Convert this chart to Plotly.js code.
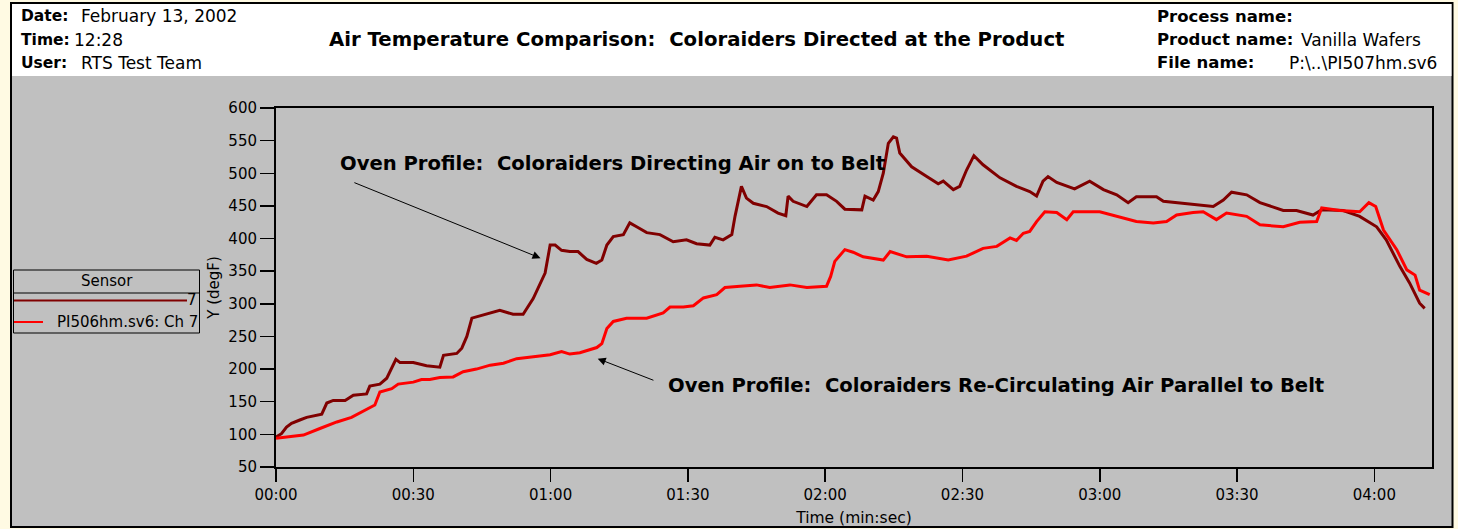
<!DOCTYPE html>
<html>
<head>
<meta charset="utf-8">
<script src="https://cdn.plot.ly/plotly-3.0.1.min.js"></script>
<style>
  html, body { margin: 0; padding: 0; background: #FFFAE3; }
  #chart { width: 1458px; height: 529px; }
</style>
</head>
<body>
<div id="chart"></div>
<script>
// ---------------- DATA ----------------
// Series "7" (PI507hm.sv6) : Coloraiders directing air on to belt
const timeDirected = [0, 1.2, 2.3, 3.4, 5.2, 6.7, 10, 11.1, 12.5, 15.1, 16.9, 19.8, 20.5, 22.7, 24.2, 25.3, 26.2, 27.1, 30, 32.9, 35.8, 36.6, 39.5, 40.6, 41.7, 42.8, 44.2, 46.8, 48.9, 51.8, 54, 56.2, 57.7, 58.8, 59.9, 61, 62.4, 64.2, 66, 67.9, 70, 71.2, 72.3, 73.7, 75.9, 77.3, 78.8, 81, 83.9, 86.8, 89.7, 91.9, 94.8, 95.9, 97.7, 99.6, 100.3, 101.7, 102.8, 104.3, 107.2, 109.7, 111.4, 111.9, 113, 116, 118.1, 120.3, 122.5, 124.3, 128, 128.7, 130.5, 131.6, 132.7, 133.8, 134.9, 135.6, 136.3, 138.9, 142.2, 144.7, 145.8, 148, 149.4, 150.9, 152.5, 154.5, 158.2, 161.8, 164.7, 166.2, 167.6, 168.7, 170.6, 174.5, 177.8, 180.8, 183.7, 186.2, 188, 192.4, 193.9, 199.7, 204.8, 207, 208.8, 212.1, 215, 220.1, 223, 226.6, 228.5, 233.2, 236.8, 240.5, 242.6, 245.6, 247.7, 249.9, 251];
const tempDirected = [96, 101, 111, 117, 122, 126, 131, 148, 152, 152, 160, 162, 174, 177, 186, 201, 215, 210, 210, 205, 203, 221, 224, 232, 250, 278, 281, 286, 290, 284, 284, 308, 332, 347, 390, 390, 382, 380, 380, 368, 362, 367, 390, 403, 406, 424, 418, 409, 406, 395, 398, 392, 390, 402, 398, 406, 434, 480, 462, 454, 449, 439, 435, 465, 457, 449, 467, 467, 457, 445, 444, 465, 459, 472, 500, 546, 556, 554, 531, 510, 495, 484, 488, 475, 480, 505, 527, 513, 493, 480, 472, 465, 488, 495, 486, 476, 488, 475, 467, 455, 464, 464, 457, 453, 449, 459, 471, 467, 455, 443, 443, 436, 444, 443, 434, 418, 398, 357, 332, 301, 293];

// Series "PI506hm.sv6: Ch 7" : Coloraiders re-circulating air parallel to belt
const timeRecirc = [0, 3.1, 6, 9.6, 13.3, 16.5, 19.1, 21.6, 22.7, 25.3, 26.7, 30, 31.8, 33.6, 35.8, 38.7, 40.9, 43.8, 46.8, 49.7, 52.6, 57, 59.9, 62.4, 64.2, 66.4, 70.1, 71.2, 72.3, 73.7, 76.6, 81, 84.6, 86.1, 89, 91.2, 93.4, 96.3, 98.1, 101.4, 105, 107.9, 112.3, 116, 120.3, 121.2, 122.1, 124.3, 126.1, 128.3, 132.7, 134.2, 137.8, 142.2, 146.9, 150.9, 154.5, 157.5, 160.4, 161.8, 163.3, 164.7, 166.2, 168, 170.6, 172.8, 174.2, 180, 183.7, 188, 191.7, 194.6, 196.8, 200.4, 202.6, 205.5, 207.7, 212.1, 215, 220.1, 223.7, 227.4, 228.5, 232.5, 236.8, 238.8, 240.3, 242, 244.9, 247.1, 248.9, 249.9, 252.1];
const tempRecirc = [94, 96, 99, 109, 119, 126, 136, 145, 165, 170, 177, 180, 184, 184, 187, 188, 196, 200, 206, 209, 216, 219, 222, 227, 223, 225, 233, 239, 262, 273, 278, 278, 286, 295, 295, 297, 309, 314, 325, 327, 329, 325, 329, 325, 327, 342, 365, 383, 379, 372, 367, 380, 372, 373, 367, 373, 385, 388, 401, 397, 408, 411, 426, 441, 440, 429, 441, 441, 434, 426, 424, 426, 436, 440, 441, 429, 439, 434, 421, 418, 425, 426, 447, 443, 441, 455, 449, 413, 383, 352, 344, 321, 314];

const xTickVals = [0, 30, 60, 90, 120, 150, 180, 210, 240];
const xTickText = ['00:00', '00:30', '01:00', '01:30', '02:00', '02:30', '03:00', '03:30', '04:00'];

const seriesNames = ['7', 'PI506hm.sv6: Ch 7'];
const seriesColors = ['#800000', '#FF0000'];

const headerLeft = [['Date:', 'February 13, 2002'], ['Time:', '12:28'], ['User:', 'RTS Test Team']];
const headerRight = [['Process name:', ''], ['Product name:', 'Vanilla Wafers'], ['File name:', 'P:\\..\\PI507hm.sv6']];
const chartTitle = 'Air Temperature Comparison:\u00a0 Coloraiders Directed at the Product';
const note1 = 'Oven Profile:\u00a0 Coloraiders Directing Air on to Belt';
const note2 = 'Oven Profile:\u00a0 Coloraiders Re-Circulating Air Parallel to Belt';

// ---------------- LAYOUT ----------------
const W = 1458, H = 529;
const L = 276, R = 1432, T = 108, B = 467;
const px = x => (x - L) / (R - L);
const py = y => (B - y) / (B - T);
const FONT = 'DejaVu Sans, Verdana, sans-serif';

const traces = [
  { x: timeDirected, y: tempDirected, name: seriesNames[0], mode: 'lines', type: 'scatter',
    line: { color: seriesColors[0], width: 3 }, hoverinfo: 'skip' },
  { x: timeRecirc, y: tempRecirc, name: seriesNames[1], mode: 'lines', type: 'scatter',
    line: { color: seriesColors[1], width: 3 }, hoverinfo: 'skip' }
];

const shapes = [
  { type: 'rect', xref: 'paper', yref: 'paper', x0: px(11), x1: px(1452.5), y0: py(3), y1: py(527),
    fillcolor: '#C0C0C0', line: { color: '#000', width: 2 }, layer: 'below' },
  { type: 'rect', xref: 'paper', yref: 'paper', x0: px(12), x1: px(1451.5), y0: py(4), y1: py(76),
    fillcolor: '#FFFFFF', line: { width: 0 }, layer: 'below' },
  // legend box
  { type: 'rect', xref: 'paper', yref: 'paper', x0: px(13.5), x1: px(199.5), y0: py(270), y1: py(333),
    line: { color: '#000', width: 1 } },
  { type: 'line', xref: 'paper', yref: 'paper', x0: px(13.5), x1: px(199.5), y0: py(293), y1: py(293),
    line: { color: '#000', width: 1 } },
  { type: 'line', xref: 'paper', yref: 'paper', x0: px(14), x1: px(187), y0: py(300.5), y1: py(300.5),
    line: { color: seriesColors[0], width: 2 } },
  { type: 'line', xref: 'paper', yref: 'paper', x0: px(14), x1: px(43), y0: py(322), y1: py(322),
    line: { color: seriesColors[1], width: 2 } }
];

const annotations = [];
const PAD = 3; // annotation inner padding, so left edges line up with the reference
const hdr = (text, x, y, bold, size) => annotations.push({
  xref: 'paper', yref: 'paper', x: px(x - PAD), y: py(y), xanchor: 'left', yanchor: 'middle',
  text: bold ? '<b>' + text + '</b>' : text, showarrow: false,
  font: { family: FONT, size: size, color: '#000' }
});
const rowY = [16, 40, 63];
const leftValX = [82, 75, 82];
headerLeft.forEach((r, i) => { hdr(r[0], 22, rowY[i], true, 15.5); hdr(r[1], leftValX[i], rowY[i], false, 17); });
const rightValX = [1302, 1302, 1290];
headerRight.forEach((r, i) => { hdr(r[0], 1158, rowY[i], true, 16.5); if (r[1]) hdr(r[1], rightValX[i], rowY[i], false, 17); });

annotations.push({ xref: 'paper', yref: 'paper', x: px(696), y: py(40), xanchor: 'center', yanchor: 'middle',
  text: '<b>' + chartTitle + '</b>', showarrow: false, font: { family: FONT, size: 19.7, color: '#000' } });

// legend texts
annotations.push({ xref: 'paper', yref: 'paper', x: px(106.5), y: py(281), xanchor: 'center', yanchor: 'middle',
  text: 'Sensor', showarrow: false, font: { family: FONT, size: 15, color: '#000' } });
annotations.push({ xref: 'paper', yref: 'paper', x: px(199), y: py(300), xanchor: 'right', yanchor: 'middle',
  text: seriesNames[0], showarrow: false, font: { family: FONT, size: 15, color: '#000' } });
annotations.push({ xref: 'paper', yref: 'paper', x: px(200), y: py(322), xanchor: 'right', yanchor: 'middle',
  text: seriesNames[1], showarrow: false, font: { family: FONT, size: 15, color: '#000' } });

// callouts
annotations.push({ xref: 'paper', yref: 'paper', x: px(341 - PAD), y: py(163), xanchor: 'left', yanchor: 'middle',
  text: '<b>' + note1 + '</b>', showarrow: false, font: { family: FONT, size: 19.6, color: '#000' } });
annotations.push({ xref: 'paper', yref: 'paper', x: px(669 - PAD), y: py(385), xanchor: 'left', yanchor: 'middle',
  text: '<b>' + note2 + '</b>', showarrow: false, font: { family: FONT, size: 19.6, color: '#000' } });
// arrows (data coordinates)
annotations.push({ x: 57.8, y: 370, ax: 16.8, ay: 486.6, axref: 'x', ayref: 'y', xref: 'x', yref: 'y',
  text: '', showarrow: true, arrowhead: 2, arrowsize: 1.6, arrowwidth: 1, arrowcolor: '#000' });
annotations.push({ x: 70.3, y: 216, ax: 82.8, ay: 182, axref: 'x', ayref: 'y', xref: 'x', yref: 'y',
  text: '', showarrow: true, arrowhead: 2, arrowsize: 1.6, arrowwidth: 1, arrowcolor: '#000' });

const layout = {
  width: W, height: H,
  margin: { l: L, r: W - R, t: T, b: H - B, pad: 0 },
  paper_bgcolor: '#FFFAE3',
  plot_bgcolor: 'rgba(0,0,0,0)',
  showlegend: false,
  font: { family: FONT, size: 15, color: '#000' },
  xaxis: {
    range: [0, 252.6], tickvals: xTickVals, ticktext: xTickText,
    showline: true, linecolor: '#000', linewidth: 2, mirror: true,
    ticks: 'outside', ticklen: 13, tickwidth: 1.5, tickcolor: '#000',
    showgrid: false, zeroline: false, fixedrange: true,
    tickfont: { family: FONT, size: 15, color: '#000' },
    title: { text: 'Time (min:sec)', font: { family: FONT, size: 15.5, color: '#000' }, standoff: 9 }
  },
  yaxis: {
    range: [50, 600], dtick: 50, tick0: 50,
    showline: true, linecolor: '#000', linewidth: 2, mirror: true,
    ticks: 'outside', ticklen: 14, tickwidth: 1.5, tickcolor: '#000',
    showgrid: false, zeroline: false, fixedrange: true,
    tickfont: { family: FONT, size: 15, color: '#000' },
    title: { text: 'Y (degF)', font: { family: FONT, size: 15, color: '#000' }, standoff: 5 }
  },
  shapes: shapes,
  annotations: annotations
};

Plotly.newPlot('chart', traces, layout, { staticPlot: true, displayModeBar: false });
</script>
</body>
</html>
